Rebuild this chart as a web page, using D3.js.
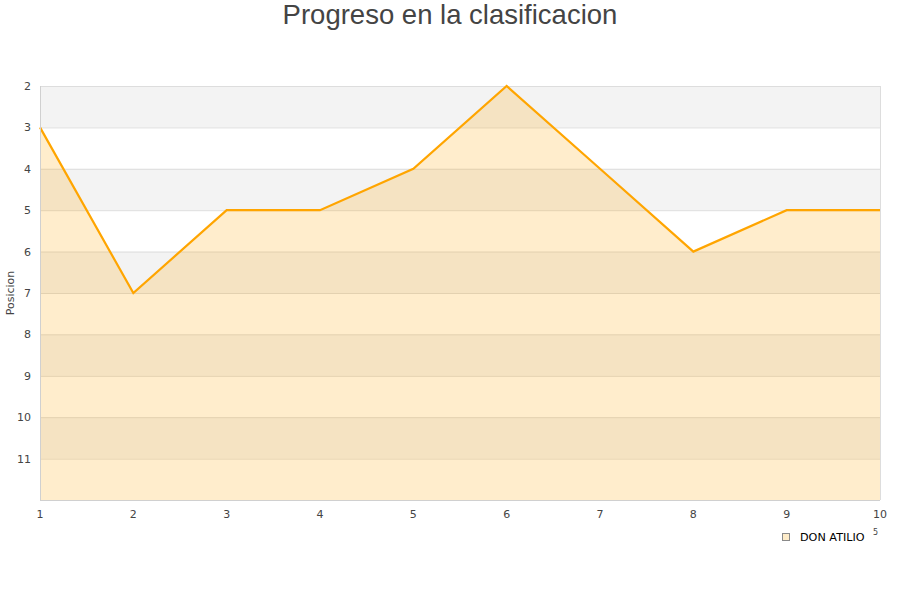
<!DOCTYPE html>
<html><head><meta charset="utf-8">
<script src="https://cdn.jsdelivr.net/npm/d3@7"></script>
<style>body{margin:0;background:#fff;font-family:"DejaVu Sans",sans-serif;}</style>
</head><body>
<svg id="c" width="900" height="600"></svg>
<script>
const jornadas = [1,2,3,4,5,6,7,8,9,10];
const posiciones = [3,7,5,5,4,2,4,6,5,5];
const yTicks = [2,3,4,5,6,7,8,9,10,11];
const serieNombre = "DON ATILIO";
const titulo = "Progreso en la clasificacion";

const svg = d3.select("#c");
const m = {l:40, r:880, t:86, b:500};
const x = d3.scaleLinear().domain([1,10]).range([m.l, m.r]);
const y = d3.scaleLinear().domain([2,12]).range([m.t, m.b]);

// bands
const bands = d3.range(2,12);
svg.append("g").selectAll("rect").data(bands).join("rect")
  .attr("x", m.l).attr("width", m.r-m.l)
  .attr("y", d=>y(d)).attr("height", d=>y(d+1)-y(d))
  .attr("fill", d=> (d%2===0) ? "#f3f3f3" : "#ffffff");

// grid
svg.append("g").selectAll("line").data(d3.range(2,12)).join("line")
  .attr("x1", m.l).attr("x2", m.r)
  .attr("y1", d=>y(d)+0.5).attr("y2", d=>y(d)+0.5)
  .attr("stroke", "#dddddd");

// area
const area = d3.area().x((d,i)=>x(jornadas[i])).y0(y(12)).y1(d=>y(d));
svg.append("path").datum(posiciones).attr("d", area)
  .attr("fill", "#ffa500").attr("fill-opacity", 0.2);
const line = d3.line().x((d,i)=>x(jornadas[i])).y(d=>y(d));
svg.append("path").datum(posiciones).attr("d", line)
  .attr("fill","none").attr("stroke","#ffa500").attr("stroke-width",2.2);

// frame
svg.append("line").attr("x1",m.l+0.5).attr("x2",m.l+0.5).attr("y1",m.t).attr("y2",m.b).attr("stroke","#d0d0d0");
svg.append("line").attr("x1",m.r+0.5).attr("x2",m.r+0.5).attr("y1",m.t).attr("y2",m.b).attr("stroke","#dddddd");
svg.append("line").attr("x1",m.l).attr("x2",m.r).attr("y1",m.b+0.5).attr("y2",m.b+0.5).attr("stroke","#d0d0d0");

// axes labels
svg.append("g").selectAll("text").data(yTicks).join("text")
  .attr("x", 31).attr("y", d=>y(d)+4).attr("text-anchor","end")
  .attr("font-size", 11).attr("fill","#444").text(d=>d);
svg.append("g").selectAll("text").data(jornadas).join("text")
  .attr("x", d=>x(d)).attr("y", 518).attr("text-anchor","middle")
  .attr("font-size", 11).attr("fill","#444").text(d=>d);

svg.append("text").attr("transform","translate(14,293) rotate(-90)")
  .attr("text-anchor","middle").attr("font-size",11).attr("fill","#444").text("Posicion");

svg.append("text").attr("x",450).attr("y",24).attr("text-anchor","middle")
  .attr("font-family","'Liberation Sans',Arial,sans-serif").attr("font-size",27.5).attr("fill","#444").text(titulo);

// legend
svg.append("rect").attr("x",782.5).attr("y",533.5).attr("width",7).attr("height",7)
  .attr("fill","#feecc9").attr("stroke","#8a8a8a");
svg.append("text").attr("x",800).attr("y",541).attr("font-size",11.2).attr("fill","#000").text(serieNombre);
svg.append("text").attr("x",873).attr("y",535).attr("font-size",8).attr("fill","#444").text("5");
</script>
</body></html>
